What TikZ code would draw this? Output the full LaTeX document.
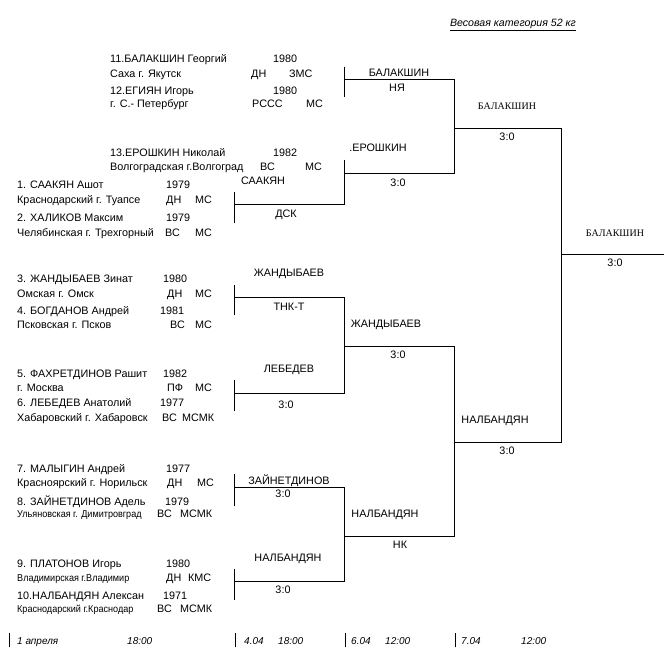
\documentclass[tikz,border=0pt]{standalone}
\usepackage{fontspec}
\setmainfont{Liberation Sans}
\newfontfamily\serifb{Liberation Serif}
\tikzset{
  nm/.style={anchor=base west, inner sep=0pt, font=\fontsize{10.8}{12}\selectfont},
  lab/.style={anchor=base, inner sep=0pt, font=\fontsize{10.8}{12}\selectfont},
  slab/.style={anchor=base, inner sep=0pt, font=\serifb\fontsize{10}{12}\selectfont},
  dt/.style={anchor=base west, inner sep=0pt, font=\itshape\fontsize{10}{12}\selectfont},
  br/.style={line width=0.9pt, line cap=rect},
}
\newcommand{\cond}[1]{\scalebox{0.84}[0.92]{#1}}
\begin{document}
\begin{tikzpicture}[x=1pt,y=-1pt]
\useasboundingbox (0,0) rectangle (664,650);
% title
\node[anchor=base, inner sep=0pt, font=\itshape\fontsize{10.6}{12}\selectfont] (title) at (513,27) {\underline{Весовая категория 52 кг}};
% top group
\node[nm] (p11) at (110,63) {11.БАЛАКШИН Георгий};
\node[nm] (p11y) at (273,63) {1980};
\node[nm] (p11c) at (110,78) {Саха г. Якутск};
\node[nm] (p11a) at (251,78) {ДН};
\node[nm] (p11b) at (289,78) {ЗМС};
\node[nm] (p12) at (110,95) {12.ЕГИЯН Игорь};
\node[nm] (p12y) at (273,95) {1980};
\node[nm] (p12c) at (110,108) {г. С.- Петербург};
\node[nm] (p12a) at (252,108) {РССС};
\node[nm] (p12b) at (306,108) {МС};
\node[nm] (p13) at (110,157) {13.ЕРОШКИН Николай};
\node[nm] (p13y) at (273,157) {1982};
\node[nm] (p13c) at (110,171) {Волгоградская г.Волгоград};
\node[nm] (p13a) at (260,171) {ВС};
\node[nm] (p13b) at (305,171) {МС};
% left group
\node[nm] (p1) at (17,189) {1. СААКЯН Ашот};
\node[nm] (p1y) at (166,189) {1979};
\node[nm] (p1c) at (17,204) {Краснодарский г. Туапсе};
\node[nm] (p1a) at (166,204) {ДН};
\node[nm] (p1b) at (195,204) {МС};
\node[nm] (p2) at (17,221) {2. ХАЛИКОВ Максим};
\node[nm] (p2y) at (166,221) {1979};
\node[nm] (p2c) at (17,236) {Челябинская г. Трехгорный};
\node[nm] (p2a) at (165,236) {ВС};
\node[nm] (p2b) at (195,236) {МС};
\node[nm] (p3) at (17,282) {3. ЖАНДЫБАЕВ Зинат};
\node[nm] (p3y) at (163,282) {1980};
\node[nm] (p3c) at (17,297) {Омская г. Омск};
\node[nm] (p3a) at (167,297) {ДН};
\node[nm] (p3b) at (195,297) {МС};
\node[nm] (p4) at (17,314) {4. БОГДАНОВ Андрей};
\node[nm] (p4y) at (160,314) {1981};
\node[nm] (p4c) at (17,328) {Псковская г. Псков};
\node[nm] (p4a) at (170,328) {ВС};
\node[nm] (p4b) at (195,328) {МС};
\node[nm] (p5) at (17,377) {5. ФАХРЕТДИНОВ Рашит};
\node[nm] (p5y) at (163,377) {1982};
\node[nm] (p5c) at (17,391) {г. Москва};
\node[nm] (p5a) at (167,391) {ПФ};
\node[nm] (p5b) at (195,391) {МС};
\node[nm] (p6) at (17,406) {6. ЛЕБЕДЕВ Анатолий};
\node[nm] (p6y) at (160,406) {1977};
\node[nm] (p6c) at (17,421) {Хабаровский г. Хабаровск};
\node[nm] (p6a) at (162,421) {ВС};
\node[nm] (p6b) at (182,421) {МСМК};
\node[nm] (p7) at (17,472) {7. МАЛЫГИН Андрей};
\node[nm] (p7y) at (166,472) {1977};
\node[nm] (p7c) at (17,486) {Красноярский г. Норильск};
\node[nm] (p7a) at (167,486) {ДН};
\node[nm] (p7b) at (197,486) {МС};
\node[nm] (p8) at (17,505) {8. ЗАЙНЕТДИНОВ Адель};
\node[nm] (p8y) at (165,505) {1979};
\node[nm] (p8c) at (17,517) {\cond{Ульяновская г. Димитровград}};
\node[nm] (p8a) at (157,517) {ВС};
\node[nm] (p8b) at (180,517) {МСМК};
\node[nm] (p9) at (17,567) {9. ПЛАТОНОВ Игорь};
\node[nm] (p9y) at (166,567) {1980};
\node[nm] (p9c) at (17,581) {\cond{Владимирская г.Владимир}};
\node[nm] (p9a) at (166,581) {ДН};
\node[nm] (p9b) at (188,581) {КМС};
\node[nm] (p10) at (17,599) {10.НАЛБАНДЯН Алексан};
\node[nm] (p10y) at (163,599) {1971};
\node[nm] (p10c) at (17,612) {\cond{Краснодарский г.Краснодар}};
\node[nm] (p10a) at (157,612) {ВС};
\node[nm] (p10b) at (180,612) {МСМК};
% bracket lines
\draw[br] (344,67) -- (344,97);
\draw[br] (344,79) -- (454,79) -- (454,173) -- (344,173);
\draw[br] (344,160) -- (344,204) -- (234,204);
\draw[br] (234,192) -- (234,223);
\draw[br] (454,128) -- (561,128) -- (561,442) -- (454,442);
\draw[br] (561,254) -- (664,254);
\draw[br] (344,346) -- (454,346) -- (454,536) -- (344,536);
\draw[br] (234,297) -- (344,297) -- (344,393) -- (234,393);
\draw[br] (234,285) -- (234,315);
\draw[br] (234,380) -- (234,411);
\draw[br] (234,487) -- (344,487) -- (344,581) -- (234,581);
\draw[br] (234,474) -- (234,506);
\draw[br] (234,569) -- (234,600);
% labels
\node[lab] (w1) at (399,77) {БАЛАКШИН};
\node[lab] (s1) at (397,92) {НЯ};
\node[lab] (w2) at (378,152) {.ЕРОШКИН};
\node[lab] (s2) at (398,186) {3:0};
\node[lab] (w3) at (263,185) {СААКЯН};
\node[lab] (s3) at (286,217) {ДСК};
\node[lab] (w4) at (289,276) {ЖАНДЫБАЕВ};
\node[lab] (s4) at (289,310) {ТНК-Т};
\node[lab] (w5) at (386,327) {ЖАНДЫБАЕВ};
\node[lab] (s5) at (398,358) {3:0};
\node[lab] (w6) at (289,372) {ЛЕБЕДЕВ};
\node[lab] (s6) at (286,408) {3:0};
\node[lab] (w7) at (495,423) {НАЛБАНДЯН};
\node[lab] (s7) at (507,454) {3:0};
\node[lab] (w8) at (289,484) {ЗАЙНЕТДИНОВ};
\node[lab] (s8) at (283,497) {3:0};
\node[lab] (w9) at (385,517) {НАЛБАНДЯН};
\node[lab] (s9) at (400,548) {НК};
\node[lab] (w10) at (288,561) {НАЛБАНДЯН};
\node[lab] (s10) at (283,593) {3:0};
\node[slab] (w11) at (507,110) {БАЛАКШИН};
\node[lab] (s11) at (507,141) {3:0};
\node[slab] (w12) at (615,236) {БАЛАКШИН};
\node[lab] (s12) at (615,266) {3:0};
% dates
\draw[br] (9,633) -- (9,647);
\draw[br] (235,633) -- (235,647);
\draw[br] (345,633) -- (345,647);
\draw[br] (455,633) -- (455,647);
\node[dt] (d1) at (17,644) {1 апреля};
\node[dt] (d2) at (127,644) {18:00};
\node[dt] (d3) at (244,644) {4.04};
\node[dt] (d4) at (278,644) {18:00};
\node[dt] (d5) at (351,644) {6.04};
\node[dt] (d6) at (385,644) {12:00};
\node[dt] (d7) at (461,644) {7.04};
\node[dt] (d8) at (521,644) {12:00};
\end{tikzpicture}
\end{document}
